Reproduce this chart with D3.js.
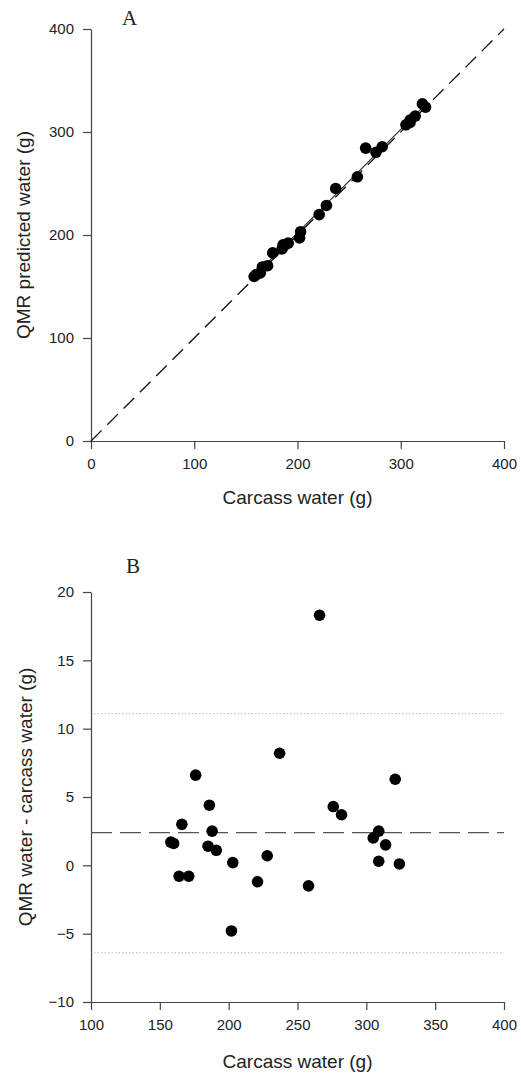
<!DOCTYPE html>
<html>
<head>
<meta charset="utf-8">
<script src="https://cdn.jsdelivr.net/npm/d3@7"></script>
<style>
  body { margin: 0; background: #fff; }
  text { font-family: "Liberation Sans", Arial, Helvetica, sans-serif; fill: #222; }
  .panel-letter { font-family: "Liberation Serif", "Times New Roman", serif; }
</style>
</head>
<body>
<div id="chart"></div>
<script>
const carcass = [158, 160, 164, 166, 171, 176, 185, 186, 188, 191, 202, 203, 221, 228,
                 237, 258, 266, 276, 282, 305, 309, 309, 314, 321, 324];
// QMR predicted water (g), panel A
const predicted = [159.7, 161.6, 163.2, 169.0, 170.2, 182.6, 186.4, 190.4, 190.5, 192.1,
                   197.2, 203.2, 219.8, 228.7, 245.2, 256.5, 284.3, 280.3, 285.7, 307.0,
                   311.5, 309.3, 315.5, 327.3, 324.1];
// QMR water - carcass water (g), panel B
const difference = [1.7, 1.6, -0.8, 3.0, -0.8, 6.6, 1.4, 4.4, 2.5, 1.1,
                     -4.8, 0.2, -1.2, 0.7, 8.2, -1.5, 18.3, 4.3, 3.7, 2.0,
                     2.5, 0.3, 1.5, 6.3, 0.1];

// regression line in A, identity line in A
const regX = [158, 324];
const regY = [160.0, 326.6];
const identity = [0, 400];

// Bland-Altman lines in B: mean bias and limits of agreement
const meanBias = 2.4;
const limits = [11.1, -6.4];

const ticksA = [0, 100, 200, 300, 400];
const ticksBx = [100, 150, 200, 250, 300, 350, 400];
const ticksBy = [-10, -5, 0, 5, 10, 15, 20];

const width = 521, height = 1074;

const svg = d3.select('#chart')
    .append('svg')
    .attr('width', width)
    .attr('height', height);

const axisColor = '#444';

//style axis: gray line, outward ticks, text size
function styleAxis(g) {
    g.selectAll('path').attr('stroke', axisColor).attr('stroke-width', 1.2);
    g.selectAll('line').attr('stroke', axisColor).attr('stroke-width', 1.2);
    g.selectAll('text').style('font-size', '15px').attr('fill', '#222');
}

// ---------- panel A ----------
const xA = d3.scaleLinear().domain([0, 400]).range([91, 504]);
const yA = d3.scaleLinear().domain([0, 400]).range([441, 29]);

const gA = svg.append('g');

gA.append('g')
    .attr('transform', `translate(0, ${yA(0)})`)
    .call(d3.axisBottom(xA).tickValues(ticksA).tickSize(8).tickPadding(9).tickSizeOuter(0))
    .call(styleAxis);

gA.append('g')
    .attr('transform', `translate(${xA(0)}, 0)`)
    .call(d3.axisLeft(yA).tickValues(ticksA).tickSize(8).tickPadding(9).tickSizeOuter(0))
    .call(styleAxis);

//identity line
gA.append('line')
    .attr('x1', xA(identity[0])).attr('y1', yA(identity[0]))
    .attr('x2', xA(identity[1])).attr('y2', yA(identity[1]))
    .attr('stroke', '#111')
    .attr('stroke-width', 1.3)
    .attr('stroke-dasharray', '15,8');

//regression line
gA.append('line')
    .attr('x1', xA(regX[0])).attr('y1', yA(regY[0]))
    .attr('x2', xA(regX[1])).attr('y2', yA(regY[1]))
    .attr('stroke', '#333')
    .attr('stroke-width', 1.2);

gA.append('g')
    .selectAll('circle')
    .data(carcass)
    .enter().append('circle')
    .attr('cx', function(d) { return xA(d); })
    .attr('cy', function(d, i) { return yA(predicted[i]); })
    .attr('r', 5.8)
    .attr('fill', '#000');

gA.append('text')
    .attr('class', 'panel-letter')
    .attr('x', 122).attr('y', 25)
    .style('font-size', '21px')
    .text('A');

gA.append('text')
    .attr('x', (xA(0) + xA(400)) / 2)
    .attr('y', 504)
    .attr('text-anchor', 'middle')
    .style('font-size', '19px')
    .text('Carcass water (g)');

gA.append('text')
    .attr('transform', `translate(30, ${(yA(0) + yA(400)) / 2}) rotate(-90)`)
    .attr('text-anchor', 'middle')
    .style('font-size', '19px')
    .text('QMR predicted water (g)');

// ---------- panel B ----------
const xB = d3.scaleLinear().domain([100, 400]).range([91, 504]);
const yB = d3.scaleLinear().domain([-10, 20]).range([1002, 592]);

const gB = svg.append('g');

gB.append('g')
    .attr('transform', `translate(0, ${yB(-10)})`)
    .call(d3.axisBottom(xB).tickValues(ticksBx).tickSize(8).tickPadding(9).tickSizeOuter(0))
    .call(styleAxis);

gB.append('g')
    .attr('transform', `translate(${xB(100)}, 0)`)
    .call(d3.axisLeft(yB).tickValues(ticksBy).tickSize(8).tickPadding(9).tickSizeOuter(0))
    .call(styleAxis);

//limits of agreement, dotted
gB.append('g')
    .selectAll('line')
    .data(limits)
    .enter().append('line')
    .attr('x1', xB(100) + 3).attr('x2', xB(400))
    .attr('y1', function(d) { return yB(d); })
    .attr('y2', function(d) { return yB(d); })
    .attr('stroke', '#bbb')
    .attr('stroke-width', 1)
    .attr('stroke-dasharray', '1.5,2');

//mean bias, dashed
gB.append('line')
    .attr('x1', xB(100)).attr('x2', xB(400))
    .attr('y1', yB(meanBias)).attr('y2', yB(meanBias))
    .attr('stroke', '#555')
    .attr('stroke-width', 1.3)
    .attr('stroke-dasharray', '21,8');

gB.append('g')
    .selectAll('circle')
    .data(carcass)
    .enter().append('circle')
    .attr('cx', function(d) { return xB(d); })
    .attr('cy', function(d, i) { return yB(difference[i]); })
    .attr('r', 5.8)
    .attr('fill', '#000');

gB.append('text')
    .attr('class', 'panel-letter')
    .attr('x', 126).attr('y', 573)
    .style('font-size', '21px')
    .text('B');

gB.append('text')
    .attr('x', (xB(100) + xB(400)) / 2)
    .attr('y', 1068)
    .attr('text-anchor', 'middle')
    .style('font-size', '19px')
    .text('Carcass water (g)');

gB.append('text')
    .attr('transform', `translate(32, ${(yB(-10) + yB(20)) / 2}) rotate(-90)`)
    .attr('text-anchor', 'middle')
    .style('font-size', '19px')
    .text('QMR water - carcass water (g)');
</script>
</body>
</html>
